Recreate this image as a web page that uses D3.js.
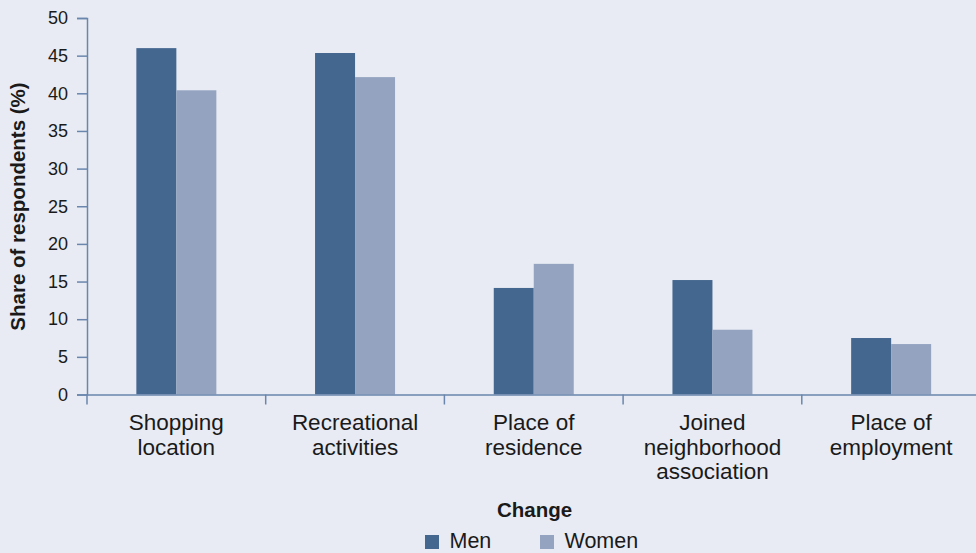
<!DOCTYPE html>
<html>
<head>
<meta charset="utf-8">
<script src="https://cdn.jsdelivr.net/npm/d3@7"></script>
<style>
  body { margin: 0; background: #e8ebf3; }
  svg { display: block; font-family: "Liberation Sans", Arial, sans-serif; }
</style>
</head>
<body>
<div id="chart"></div>
<script>
const categories = [
  ["Shopping", "location"],
  ["Recreational", "activities"],
  ["Place of", "residence"],
  ["Joined", "neighborhood", "association"],
  ["Place of", "employment"]
];
const series = ["Men", "Women"];
const menValues = [46.0, 45.35, 14.15, 15.2, 7.5];
const womenValues = [40.4, 42.15, 17.35, 8.6, 6.7];
const yTicks = [0, 5, 10, 15, 20, 25, 30, 35, 40, 45, 50];

const colors = { Men: "#44678f", Women: "#94a4c0" };
const axisColor = "#6a86ad";
const textColor = "#1a1a1a";

const fullWidth = 976, fullHeight = 553;
const svg = d3.select("#chart").append("svg")
  .attr("width", fullWidth)
  .attr("height", fullHeight)
  .style("background-color", "#e8ebf3");

const data = categories.map((c, i) => ({
  key: i, label: c, values: { Men: menValues[i], Women: womenValues[i] }
}));

// scales
const x0 = d3.scaleBand()
  .domain(data.map(d => d.key))
  .range([87, 980.5])
  .padding(0);

const x1 = d3.scaleBand()
  .domain(series)
  .range([x0.bandwidth() / 2 - 40, x0.bandwidth() / 2 + 40]);

const y = d3.scaleLinear()
  .domain([0, 50])
  .range([394.5, 18]);

// bars
const groups = svg.append("g").selectAll("g")
  .data(data)
  .enter().append("g")
  .attr("transform", d => `translate(${x0(d.key)},0)`);

groups.selectAll("rect")
  .data(d => series.map(s => ({ s, v: d.values[s] })))
  .enter().append("rect")
  .attr("x", d => x1(d.s))
  .attr("width", x1.bandwidth())
  .attr("y", d => y(d.v))
  .attr("height", d => y(0) - y(d.v))
  .attr("fill", d => colors[d.s]);

// y axis
const yAxis = svg.append("g")
  .attr("transform", "translate(87,0)")
  .call(d3.axisLeft(y).tickValues(yTicks).tickSize(10).tickPadding(9));
yAxis.select(".domain").attr("stroke", axisColor).attr("stroke-width", 1.5);
yAxis.selectAll(".tick line").attr("stroke", axisColor).attr("stroke-width", 1.5);
yAxis.selectAll("text")
  .style("font-size", "18px")
  .style("fill", textColor);

// x axis
const xAxis = svg.append("g")
  .attr("transform", `translate(0,${y(0)})`)
  .call(d3.axisBottom(x0).tickSize(0).tickFormat(""));
xAxis.select(".domain").attr("stroke", axisColor).attr("stroke-width", 1.5);

// x ticks at band boundaries
const bounds = data.map(d => x0(d.key)).concat([x0.range()[1]]);
svg.append("g").selectAll("line")
  .data(bounds)
  .enter().append("line")
  .attr("x1", d => d).attr("x2", d => d)
  .attr("y1", y(0)).attr("y2", y(0) + 10)
  .attr("stroke", axisColor)
  .attr("stroke-width", 1.5);

// category labels
const labels = svg.append("g").selectAll("text")
  .data(data)
  .enter().append("text")
  .attr("x", d => x0(d.key) + x0.bandwidth() / 2)
  .attr("y", 430)
  .attr("text-anchor", "middle")
  .style("font-size", "22.5px")
  .style("fill", textColor);
labels.selectAll("tspan")
  .data(d => d.label.map(t => ({ t, x: x0(d.key) + x0.bandwidth() / 2 })))
  .enter().append("tspan")
  .attr("x", d => d.x)
  .attr("dy", (d, i) => i === 0 ? 0 : 24.5)
  .text(d => d.t);

// axis titles
svg.append("text")
  .attr("transform", "translate(24.5,206.5) rotate(-90)")
  .attr("text-anchor", "middle")
  .style("font-size", "20.5px")
  .style("font-weight", "bold")
  .style("fill", textColor)
  .text("Share of respondents (%)");

svg.append("text")
  .attr("x", 534.5)
  .attr("y", 517)
  .attr("text-anchor", "middle")
  .style("font-size", "20.5px")
  .style("font-weight", "bold")
  .style("fill", textColor)
  .text("Change");

// legend
const legendX = [425, 540];
const legend = svg.append("g").selectAll("g")
  .data(series)
  .enter().append("g")
  .attr("transform", (d, i) => `translate(${legendX[i]},535)`);
legend.append("rect")
  .attr("width", 14).attr("height", 14)
  .attr("fill", d => colors[d]);
legend.append("text")
  .attr("x", 24.5)
  .attr("y", 13)
  .style("font-size", "21.5px")
  .style("fill", textColor)
  .text(d => d);
</script>
</body>
</html>
